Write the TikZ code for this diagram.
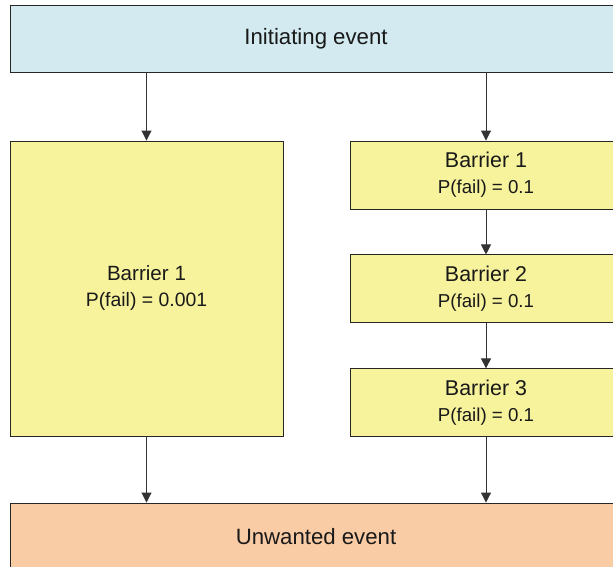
\documentclass[tikz,border=0pt]{standalone}
\usepackage{fontspec}
\setmainfont{Liberation Sans}
\usetikzlibrary{arrows.meta}
\usetikzlibrary{positioning}

\definecolor{initblue}{RGB}{210,234,240}
\definecolor{barrieryellow}{RGB}{247,242,156}
\definecolor{unwantedorange}{RGB}{249,204,166}

% title, probability, title size, probability size
\newcommand{\barriertext}[4]{{\fontsize{#3}{26}\selectfont #1}\\{\fontsize{#4}{26}\selectfont P(fail) = #2}}

\begin{document}
\begin{tikzpicture}[
  x=1pt, y=-1pt,
  > = {Triangle[length=10pt,width=10pt]},
  box/.style = {draw=black!85, line width=0.9pt, inner sep=0pt, align=center,
                font=\fontsize{22.2}{26}\selectfont, text=black!90},
  widebox/.style = {box, minimum width=612pt, minimum height=67pt},
  barrier/.style = {box, fill=barrieryellow, minimum width=272pt, minimum height=68pt},
  link/.style = {->, draw=black!80, line width=0.9pt}
  ]
	\useasboundingbox (0,0) rectangle (613,566);
	\clip (0,0) rectangle (613,566);

	\node[widebox, fill=initblue] (init) at (316,38.5) {Initiating event};

	\node[barrier, minimum width=273pt, minimum height=295pt] (single) at (146.5,288.5) {\barriertext{Barrier 1}{0.001}{20.6}{19.4}};

	\node[barrier] (first) at (486,175) {\barriertext{Barrier 1}{0.1}{21.4}{18.7}};
	\node[barrier, below=45pt of first] (second) {\barriertext{Barrier 2}{0.1}{21.4}{18.7}};
	\node[barrier, below=45pt of second] (third) {\barriertext{Barrier 3}{0.1}{21.4}{18.7}};

	\node[widebox, fill=unwantedorange, minimum height=68pt] (unwanted) at (316,537) {Unwanted event};

	\draw[link] (init.south -| single.north) -- (single.north);
	\draw[link] (init.south -| first.north) -- (first.north);
	\draw[link] (first) -- (second);
	\draw[link] (second) -- (third);
	\draw[link] (single.south) -- (unwanted.north -| single.south);
	\draw[link] (third.south) -- (unwanted.north -| third.south);

\end{tikzpicture}
\end{document}
